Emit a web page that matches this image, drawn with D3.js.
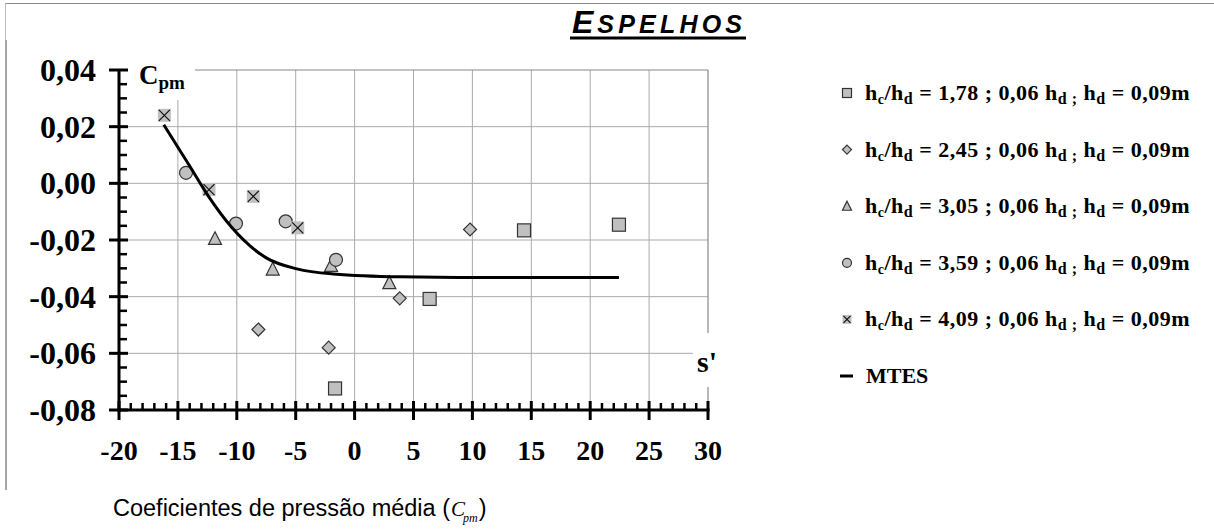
<!DOCTYPE html>
<html>
<head>
<meta charset="utf-8">
<script src="https://cdn.jsdelivr.net/npm/d3@7"></script>
<style>
  body { margin: 0; background: #fff; }
  svg { display: block; }
</style>
</head>
<body>
<svg id="chart" width="1214" height="529"></svg>
<script>
// Axis ticks
const xTickValues = [-20, -15, -10, -5, 0, 5, 10, 15, 20, 25, 30];
const yTickValues = [0.04, 0.02, 0, -0.02, -0.04, -0.06, -0.08];

// Series: [s', Cpm]
const seriesSquare   = [[-1.66, -0.0724], [6.37, -0.0408], [14.38, -0.0166], [22.44, -0.0146]];
const seriesDiamond  = [[-8.17, -0.0516], [-2.2, -0.058], [3.83, -0.0406], [9.8, -0.0163]];
const seriesTriangle = [[-11.85, -0.0195], [-6.95, -0.0303], [-2.0, -0.029], [2.95, -0.0351]];
const seriesCircle   = [[-14.31, 0.0037], [-10.07, -0.0142], [-5.85, -0.0134], [-1.58, -0.027]];
const seriesCross    = [[-16.15, 0.024], [-12.36, -0.0022], [-8.6, -0.0046], [-4.83, -0.0157]];

// MTES fitted curve
const mtesCurve = [[-16.2, 0.0207], [-14.0, 0.0061], [-12.4, -0.0046], [-10.4, -0.0157],
                   [-7.5, -0.0263], [-4.9, -0.0302], [-1.8, -0.032], [3.9, -0.033],
                   [10, -0.0332], [22.44, -0.0332]];

// Legend entries
const legendRatios = ["1,78", "2,45", "3,05", "3,59", "4,09"];
const legendKinds  = ["square", "diamond", "triangle", "circle", "cross"];

const svg = d3.select("#chart");
const x = d3.scaleLinear().domain([-20, 30]).range([119, 708]);
const y = d3.scaleLinear().domain([-0.08, 0.04]).range([410, 70]);
const fmtY = v => {
  const s = d3.format(".2f")(Math.abs(v)).replace(".", ",");
  return v < -1e-9 ? "-" + s : s;
};

const serif = "Liberation Serif, Times New Roman, serif";
const sans = "Liberation Sans, Arial, sans-serif";
const markFill = "#c0c0c0";
const markStroke = "#333";

// Outer frame fragments
svg.append("line").attr("x1", 5).attr("x2", 1214).attr("y1", 3.5).attr("y2", 3.5)
  .attr("stroke", "#888").attr("stroke-width", 1);
svg.append("line").attr("x1", 5.5).attr("x2", 5.5).attr("y1", 3).attr("y2", 40)
  .attr("stroke", "#bbb").attr("stroke-width", 1);
svg.append("line").attr("x1", 6).attr("x2", 6).attr("y1", 40).attr("y2", 490)
  .attr("stroke", "#888").attr("stroke-width", 1.5);

// Title
const title = svg.append("text").attr("x", 572).attr("y", 33)
  .style("font-family", sans).attr("font-weight", "bold").attr("font-style", "italic")
  .attr("fill", "#000");
title.append("tspan").attr("font-size", 32).text("E");
title.append("tspan").attr("font-size", 25).attr("letter-spacing", 4.2).attr("dx", 4).text("SPELHOS");
svg.append("rect").attr("x", 570).attr("y", 36.5).attr("width", 176).attr("height", 3).attr("fill", "#000");

// Grid
const g = svg.append("g");
g.selectAll(".vg").data(xTickValues.slice(1, -1)).join("line")
  .attr("x1", d => x(d)).attr("x2", d => x(d)).attr("y1", y(0.04)).attr("y2", y(-0.08))
  .attr("stroke", "#aaa").attr("stroke-width", 1);
g.selectAll(".hg").data(yTickValues.slice(1, -1)).join("line")
  .attr("x1", x(-20)).attr("x2", x(30)).attr("y1", d => y(d)).attr("y2", d => y(d))
  .attr("stroke", "#aaa").attr("stroke-width", 1);
// plot frame top / right
g.append("line").attr("x1", x(-20)).attr("x2", x(30)).attr("y1", y(0.04)).attr("y2", y(0.04))
  .attr("stroke", "#888").attr("stroke-width", 1.2);
g.append("line").attr("x1", x(30)).attr("x2", x(30)).attr("y1", y(0.04)).attr("y2", y(-0.08))
  .attr("stroke", "#888").attr("stroke-width", 1.2);

// Label boxes
svg.append("rect").attr("x", 127).attr("y", 60).attr("width", 68).attr("height", 40).attr("fill", "#fff");
svg.append("rect").attr("x", 693).attr("y", 333).attr("width", 34).attr("height", 54).attr("fill", "#fff");

const cpm = svg.append("text").attr("x", 139).attr("y", 84)
  .style("font-family", serif).attr("font-weight", "bold").attr("fill", "#000");
cpm.append("tspan").attr("font-size", 27).text("C");
cpm.append("tspan").attr("font-size", 19).attr("dy", 5).text("pm");

svg.append("text").attr("x", 697).attr("y", 372)
  .style("font-family", serif).attr("font-weight", "bold").attr("font-size", 30)
  .attr("fill", "#000").text("s'");

// Axes
const axes = svg.append("g").attr("stroke", "#000");
axes.append("line").attr("x1", x(-20)).attr("x2", x(-20)).attr("y1", y(0.04)).attr("y2", y(-0.08) + 1.5)
  .attr("stroke-width", 3);
axes.append("line").attr("x1", x(-20) - 1.5).attr("x2", x(30) + 1.5).attr("y1", y(-0.08)).attr("y2", y(-0.08))
  .attr("stroke-width", 3);

const yMinor = d3.range(-0.08, 0.0401, 0.005).filter(v => Math.abs(Math.round(v * 1000) % 20) !== 0);
axes.selectAll(".ymin").data(yMinor).join("line")
  .attr("x1", x(-20)).attr("x2", x(-20) + 8).attr("y1", d => y(d)).attr("y2", d => y(d))
  .attr("stroke-width", 2.5);
axes.selectAll(".ymaj").data(yTickValues).join("line")
  .attr("x1", x(-20) - 10).attr("x2", x(-20) + 9).attr("y1", d => y(d)).attr("y2", d => y(d))
  .attr("stroke-width", 3);

const xMinor = d3.range(-20, 30.01, 1).filter(v => v % 5 !== 0);
axes.selectAll(".xmin").data(xMinor).join("line")
  .attr("x1", d => x(d)).attr("x2", d => x(d)).attr("y1", y(-0.08) - 7).attr("y2", y(-0.08))
  .attr("stroke-width", 2.5);
axes.selectAll(".xmaj").data(xTickValues).join("line")
  .attr("x1", d => x(d)).attr("x2", d => x(d)).attr("y1", y(-0.08) - 9).attr("y2", y(-0.08) + 10)
  .attr("stroke-width", 3);

// Tick labels
svg.append("g").selectAll("text").data(yTickValues).join("text")
  .attr("x", 96).attr("y", d => y(d) + 11)
  .attr("text-anchor", "end").style("font-family", serif).attr("font-weight", "bold")
  .attr("font-size", 32).attr("fill", "#000").text(d => fmtY(d));
svg.append("g").selectAll("text").data(xTickValues).join("text")
  .attr("x", d => x(d)).attr("y", 460)
  .attr("text-anchor", "middle").style("font-family", serif).attr("font-weight", "bold")
  .attr("font-size", 28).attr("fill", "#000").text(d => d);

// Axis title
const xt = svg.append("text").attr("x", 113).attr("y", 516).style("font-family", sans)
  .attr("font-size", 23.5).attr("fill", "#000");
xt.append("tspan").text("Coeficientes de pressão média (");
xt.append("tspan").style("font-family", serif).attr("font-style", "italic").attr("font-size", 21).attr("dx", 1).text("C");
xt.append("tspan").style("font-family", serif).attr("font-style", "italic").attr("font-size", 12).attr("dy", 6).attr("dx", -2).text("pm");
xt.append("tspan").attr("dy", -6).attr("dx", 1).text(")");

// Markers
function drawMarker(sel, kind, s) {
  const h = s / 2;
  if (kind === "square") {
    sel.append("rect").attr("x", -h).attr("y", -h).attr("width", s).attr("height", s)
      .attr("fill", markFill).attr("stroke", markStroke).attr("stroke-width", 1.2);
  } else if (kind === "diamond") {
    sel.append("path").attr("d", `M0,${-h}L${h},0L0,${h}L${-h},0Z`)
      .attr("fill", markFill).attr("stroke", markStroke).attr("stroke-width", 1.2);
  } else if (kind === "triangle") {
    const th = s * 0.9;
    sel.append("path").attr("d", `M0,${-th / 2 - 1}L${h},${th / 2}L${-h},${th / 2}Z`)
      .attr("fill", markFill).attr("stroke", markStroke).attr("stroke-width", 1.2);
  } else if (kind === "circle") {
    sel.append("circle").attr("r", h).attr("fill", markFill).attr("stroke", markStroke).attr("stroke-width", 1.2);
  } else if (kind === "cross") {
    sel.append("rect").attr("x", -h).attr("y", -h).attr("width", s).attr("height", s).attr("fill", markFill);
    const k = h - 1;
    sel.append("path").attr("d", `M${-k},${-k}L${k},${k}M${k},${-k}L${-k},${k}`)
      .attr("stroke", "#111").attr("stroke-width", 1.2).attr("fill", "none");
  }
}

const allSeries = [seriesSquare, seriesDiamond, seriesTriangle, seriesCircle, seriesCross];
allSeries.forEach((data, i) => {
  svg.append("g").selectAll("g").data(data).join("g")
    .attr("transform", d => `translate(${x(d[0])},${y(d[1])})`)
    .each(function () { drawMarker(d3.select(this), legendKinds[i], 13); });
});

// MTES line
const line = d3.line().x(d => x(d[0])).y(d => y(d[1])).curve(d3.curveMonotoneX);
svg.append("path").datum(mtesCurve).attr("d", line)
  .attr("fill", "none").attr("stroke", "#000").attr("stroke-width", 3);

// Legend
const legY = d3.scalePoint().domain(d3.range(6)).range([93, 376]);
const leg = svg.append("g");
legendRatios.forEach((r, i) => {
  const row = leg.append("g").attr("transform", `translate(847,${legY(i)})`);
  drawMarker(row, legendKinds[i], 9);
  const t = leg.append("text").attr("x", 865).attr("y", legY(i) + 7)
    .style("font-family", serif).attr("font-weight", "bold").attr("font-size", 22)
    .attr("letter-spacing", 0.5).attr("fill", "#000");
  t.append("tspan").text("h");
  t.append("tspan").attr("font-size", 14).attr("dy", 4).text("c");
  t.append("tspan").attr("dy", -4).text("/h");
  t.append("tspan").attr("font-size", 16).attr("dy", 4).text("d");
  t.append("tspan").attr("dy", -4).text(` = ${r} ; 0,06 h`);
  t.append("tspan").attr("font-size", 16).attr("dy", 4).text("d ;");
  t.append("tspan").attr("dy", -4).text(" h");
  t.append("tspan").attr("font-size", 16).attr("dy", 4).text("d");
  t.append("tspan").attr("dy", -4).text(" = 0,09m");
});
leg.append("line").attr("x1", 840).attr("x2", 853).attr("y1", legY(5)).attr("y2", legY(5))
  .attr("stroke", "#000").attr("stroke-width", 3);
leg.append("text").attr("x", 866).attr("y", legY(5) + 7)
  .style("font-family", serif).attr("font-weight", "bold").attr("font-size", 22).attr("fill", "#000")
  .text("MTES");
</script>
</body>
</html>
